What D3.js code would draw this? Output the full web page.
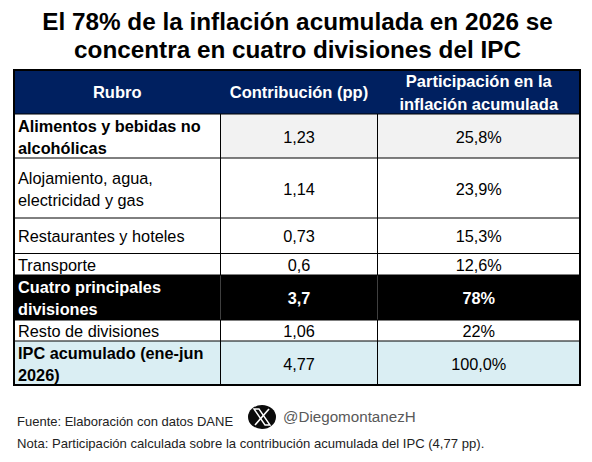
<!DOCTYPE html>
<html>

<head>
  <meta charset="utf-8">
  <title>Inflación acumulada 2026</title>
  <style>
    body { margin: 0; background: #fff; }
    text { font-family: "Liberation Sans", Arial, sans-serif; }
  </style>
</head>

<body>
  <script src="https://d3js.org/d3.v7.min.js"></script>
  <script>
    const titleLines = ['El 78% de la inflación acumulada en 2026 se', 'concentra en cuatro divisiones del IPC'];
    const headers = [['Rubro'], ['Contribución (pp)'], ['Participación en la', 'inflación acumulada']];
    const rubros = [
      ['Alimentos y bebidas no', 'alcohólicas'],
      ['Alojamiento, agua,', 'electricidad y gas'],
      ['Restaurantes y hoteles'],
      ['Transporte'],
      ['Cuatro principales', 'divisiones'],
      ['Resto de divisiones'],
      ['IPC acumulado (ene-jun', '2026)']
    ];
    const contribucion = ['1,23', '1,14', '0,73', '0,6', '3,7', '1,06', '4,77'];
    const participacion = ['25,8%', '23,9%', '15,3%', '12,6%', '78%', '22%', '100,0%'];
    const fuente = 'Fuente: Elaboración con datos DANE';
    const usuario = '@DiegomontanezH';
    const nota = 'Nota: Participación calculada sobre la contribución acumulada del IPC (4,77 pp).';

    const width = 592;
    const height = 462;
    const navy = '#002060';
    const cellFont = 16.3;

    // row edges, header first
    const rowEdges = [70, 114, 158, 218, 253.5, 275, 320, 341, 385];
    const colEdges = [14, 220.5, 377.5, 580];

    const svg = d3.select('body')
      .append('svg')
      .attr('width', width)
      .attr('height', height)
      .style('display', 'block');

    svg.append('g')
      .selectAll('text')
      .data(titleLines)
      .join('text')
      .attr('x', 297.5)
      .attr('y', (d, i) => 30 + i * 28)
      .attr('text-anchor', 'middle')
      .attr('font-size', 24.3)
      .attr('font-weight', 'bold')
      .attr('fill', '#000')
      .text((d) => d);

    const multiline = (sel, lines, x, cy, lineH) => {
      lines.forEach((line, i) => {
        sel.append('text')
          .attr('x', x)
          .attr('y', cy + (i - (lines.length - 1) / 2) * lineH + 6.5)
          .text(line);
      });
    };

    // header
    const head = svg.append('g');
    head.append('rect')
      .attr('x', colEdges[0])
      .attr('y', rowEdges[0])
      .attr('width', colEdges[3] - colEdges[0])
      .attr('height', rowEdges[1] - rowEdges[0])
      .attr('fill', navy);

    headers.forEach((lines, c) => {
      const g = head.append('g')
        .attr('fill', '#fff')
        .attr('font-size', 16.5)
        .attr('font-weight', 'bold')
        .attr('text-anchor', 'middle');
      multiline(g, lines, (colEdges[c] + colEdges[c + 1]) / 2, (rowEdges[0] + rowEdges[1]) / 2 - 0.5, 23);
    });

    // body rows
    const rowFill = (i, c) => {
      if (i === 4) return '#000';
      if (i === 6) return '#daeef3';
      if (i === 0 && c > 0) return '#f2f2f2';
      return '#fff';
    };
    const boldRow = (i) => i === 0 || i === 4 || i === 6;

    rubros.forEach((lines, i) => {
      const y0 = rowEdges[i + 1];
      const y1 = rowEdges[i + 2];
      const cy = (y0 + y1) / 2;
      const cells = [lines, [contribucion[i]], [participacion[i]]];
      cells.forEach((cell, c) => {
        svg.append('rect')
          .attr('x', colEdges[c])
          .attr('y', y0)
          .attr('width', colEdges[c + 1] - colEdges[c])
          .attr('height', y1 - y0)
          .attr('fill', rowFill(i, c));
        const g = svg.append('g')
          .attr('fill', i === 4 ? '#fff' : '#000')
          .attr('font-size', cellFont)
          .attr('font-weight', (boldRow(i) && (c === 0 || i === 4)) ? 'bold' : 'normal')
          .attr('text-anchor', c === 0 ? 'start' : 'middle');
        multiline(g, cell, c === 0 ? 18 : (colEdges[c] + colEdges[c + 1]) / 2, cy, 22);
      });
    });

    // grid lines
    const grid = svg.append('g').attr('stroke', '#000').attr('stroke-width', 1);
    rowEdges.slice(1, -1).forEach((y) => {
      grid.append('line').attr('x1', colEdges[0]).attr('x2', colEdges[3]).attr('y1', y).attr('y2', y);
    });
    [colEdges[1], colEdges[2]].forEach((x) => {
      grid.append('line').attr('x1', x).attr('x2', x).attr('y1', rowEdges[1]).attr('y2', rowEdges[5]);
      grid.append('line').attr('x1', x).attr('x2', x).attr('y1', rowEdges[6]).attr('y2', rowEdges[8]);
    });

    svg.append('rect')
      .attr('x', colEdges[0])
      .attr('y', rowEdges[0])
      .attr('width', colEdges[3] - colEdges[0])
      .attr('height', rowEdges[8] - rowEdges[0])
      .attr('fill', 'none')
      .attr('stroke', '#000')
      .attr('stroke-width', 2);

    // footer
    svg.append('text')
      .attr('x', 17)
      .attr('y', 426)
      .attr('font-size', 13)
      .attr('fill', '#222')
      .text(fuente);

    svg.append('text')
      .attr('x', 17)
      .attr('y', 448)
      .attr('font-size', 13.1)
      .attr('fill', '#222')
      .text(nota);

    const logo = svg.append('g').attr('transform', 'translate(262,417)');
    logo.append('ellipse').attr('rx', 14).attr('ry', 12).attr('fill', '#0b0b0b');
    logo.append('path')
      .attr('d', 'M-8,-8 L-3,-8 L8,8 L3,8 Z')
      .attr('fill', 'none')
      .attr('stroke', '#fff')
      .attr('stroke-width', 1.4);
    logo.append('path')
      .attr('d', 'M7,-8 L-7,8')
      .attr('stroke', '#fff')
      .attr('stroke-width', 1.6);

    svg.append('text')
      .attr('x', 283)
      .attr('y', 422)
      .attr('font-size', 15.2)
      .attr('fill', '#595959')
      .text(usuario);
  </script>
</body>

</html>
